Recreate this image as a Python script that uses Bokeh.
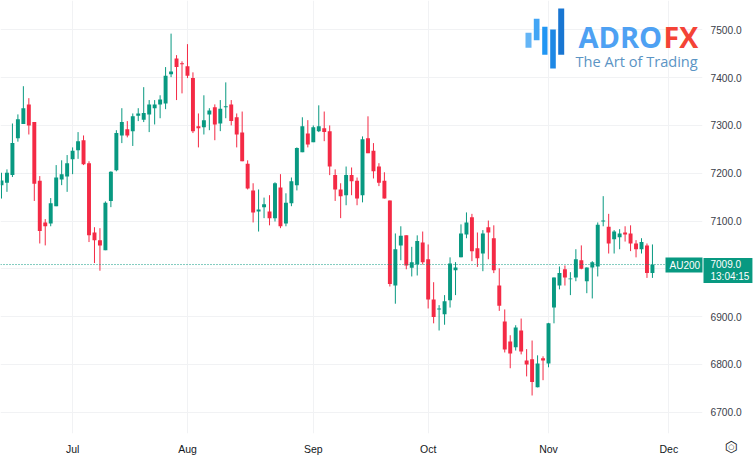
from bokeh.embed import file_html
from bokeh.resources import INLINE
from bokeh.plotting import figure
from bokeh.models import (Range1d, FixedTicker, Span, Label, BoxAnnotation,
                          ColumnDataSource, NumeralTickFormatter)

open_ = [7175,7180,7196,7273,7303,7344,7307,7184,7097,7095,7131,7187,7193,7229,7248,7269,7221,7076,7060,7039,
         7142,7206,7279,7292,7288,7320,7312,7323,7336,7344,7346,7407,7440,7430,7424,7399,7298,7296,7323,7338,
         7304,7338,7344,7317,7285,7220,7164,7120,7129,7120,7106,7170,7095,7137,7175,7244,7283,7265,7288,7294,
         7288,7196,7166,7154,7196,7184,7154,7273,7247,7214,7184,7143,6965,7049,7070,7002,7009,7055,7020,6936,
         6915,6905,6934,6997,7024,7072,7108,7043,7032,7087,7064,6965,6890,6848,6836,6871,6808,6811,6752,6813,
         6802,6919,6965,6999,6978,6982,7018,6974,7003,7005,7099,7088,7062,7066,7076,7074,7053,7041,7049,6991]
high = [7201,7208,7304,7323,7382,7357,7307,7194,7104,7148,7217,7227,7238,7254,7286,7279,7225,7087,7085,7141,
        7204,7290,7336,7309,7325,7336,7380,7353,7353,7363,7422,7492,7447,7434,7470,7411,7325,7363,7336,7344,
        7353,7390,7353,7325,7329,7227,7179,7166,7149,7154,7181,7198,7158,7191,7254,7317,7311,7300,7342,7329,
        7300,7208,7179,7214,7212,7191,7277,7319,7263,7221,7202,7143,7074,7089,7070,7046,7070,7078,7051,6972,
        6924,6945,7024,7014,7093,7118,7115,7076,7081,7101,7091,7001,6915,6861,6882,6896,6832,6850,6819,6817,
        6887,6982,7005,7007,6993,7041,7049,7003,7016,7097,7152,7115,7081,7083,7089,7091,7060,7064,7053,7051]
low = [7147,7161,7192,7266,7303,7281,7142,7053,7049,7089,7131,7175,7161,7198,7230,7217,7056,7012,6996,7039,
       7129,7204,7263,7275,7257,7309,7307,7286,7302,7315,7334,7401,7353,7367,7399,7284,7254,7281,7290,7269,
       7288,7315,7300,7254,7225,7166,7097,7078,7106,7091,7099,7085,7089,7131,7164,7244,7254,7265,7286,7267,
       7196,7142,7106,7133,7154,7133,7139,7242,7189,7173,7147,6963,6927,7018,6999,6984,6986,7009,6917,6886,
       6871,6883,6919,6945,7024,7064,7016,7004,6995,7020,6991,6912,6825,6792,6829,6821,6775,6735,6752,6767,
       6794,6886,6957,6965,6945,6974,6999,6949,6938,6984,7089,7032,7032,7041,7057,7037,7024,7032,6981,6981]
close = [7185,7201,7263,7313,7336,7300,7178,7079,7089,7137,7191,7198,7221,7247,7267,7219,7070,7060,7049,7138,
         7203,7284,7307,7279,7319,7325,7326,7344,7344,7354,7404,7413,7422,7428,7404,7288,7294,7311,7331,7302,
         7335,7340,7309,7281,7225,7168,7118,7124,7135,7106,7179,7089,7138,7183,7253,7298,7260,7296,7298,7286,
         7214,7166,7152,7196,7183,7147,7271,7242,7204,7180,7147,6968,7041,7069,7007,7014,7058,7014,6936,6899,
         6917,6932,7011,7003,7074,7097,7037,7022,7074,7076,6997,6923,6831,6823,6877,6827,6800,6763,6802,6808,
         6886,6982,6991,6982,6980,7020,7000,7003,7014,7092,7101,7053,7078,7074,7072,7053,7041,7056,6991,7009]

price_ticks = [6700, 6800, 6900, 7000, 7100, 7200, 7300, 7400, 7500]
month_ticks = [13, 34, 57, 78, 100, 122]
month_labels = ["Jul", "Aug", "Sep", "Oct", "Nov", "Dec"]
last_price = 7009.0
countdown = "13:04:15"
symbol = "AU200"

GREEN = "#089981"
RED = "#f42a45"
GRID = "#f1f2f4"

p = figure(width=755, height=460, frame_width=702, frame_height=433,
           output_backend="svg", toolbar_location=None,
           x_range=Range1d(-0.18, 128.15), y_range=Range1d(6655.5, 7561.3),
           min_border_left=0, min_border_top=0, min_border_right=0, min_border_bottom=27,
           y_axis_location="right", outline_line_color=None, background_fill_color="white")
p.margin = 0

idx = list(range(len(close)))
src = ColumnDataSource(dict(
    x=idx, high=high, low=low,
    top=[max(o, c) for o, c in zip(open_, close)],
    bottom=[min(o, c) for o, c in zip(open_, close)],
    color=[GREEN if c >= o else RED for o, c in zip(open_, close)]))
p.segment("x", "high", "x", "low", color="color", line_width=1, source=src)
p.vbar("x", 0.72, "bottom", "top", fill_color="color", line_color=None, source=src)

p.xaxis.ticker = FixedTicker(ticks=month_ticks)
p.xaxis.major_label_overrides = dict(zip(month_ticks, month_labels))
p.xaxis.axis_line_color = None
p.xaxis.major_tick_line_color = None
p.xaxis.minor_tick_line_color = None
p.xaxis.major_tick_out = 0
p.xaxis.major_tick_in = 0
p.xaxis.major_label_text_font = "Liberation Sans"
p.xaxis.major_label_text_font_size = "10.5px"
p.xaxis.major_label_text_color = "#131722"
p.xaxis.major_label_standoff = 9

ax = p.yaxis[0]
ax.ticker = FixedTicker(ticks=price_ticks)
ax.formatter = NumeralTickFormatter(format="0.0")
ax.axis_line_color = None
ax.major_tick_line_color = None
ax.minor_tick_line_color = None
ax.major_tick_out = 0
ax.major_tick_in = 0
ax.major_label_text_font = "Liberation Sans"
ax.major_label_text_font_size = "10.2px"
ax.major_label_text_color = "#3a3e4a"
ax.major_label_standoff = 8

p.xgrid.ticker = FixedTicker(ticks=month_ticks)
p.ygrid.ticker = FixedTicker(ticks=price_ticks)
p.xgrid.grid_line_color = GRID
p.ygrid.grid_line_color = GRID

p.add_layout(Span(location=last_price, dimension="width", line_color=GREEN, line_width=1, line_dash="1 2"))


def box(l, r, t, b, color):
    p.add_layout(BoxAnnotation(left=l, right=r, top=t, bottom=b, left_units="canvas", right_units="canvas",
                               top_units="canvas", bottom_units="canvas", fill_color=color, fill_alpha=1,
                               line_color=None, level="overlay", editable=False))


def text(x, y, s, size, color, font="Liberation Sans", style="normal", align="left", bg=None, padding=0, place="center", lh=1.2):
    p.add_layout(Label(x=x, y=y, x_units="canvas", y_units="canvas", text=s, text_font=font,
                       text_font_size=size, text_color=color, text_font_style=style,
                       text_align=align, text_baseline="middle", level="overlay", text_line_height=lh,
                       background_fill_color=bg, padding=padding), place)


# padding order here: left, right, top, bottom
text(665, 264.5, symbol, "10px", "white", bg=GREEN, padding=(4, 3, 2, 2))
text(703, 270, f"{last_price:.1f}\n{countdown}", "10px", "white", bg=GREEN, padding=(7, 3, 1, 1), place="right", lh=1.1)

for l, r, t, b, c in [(525, 531, 47.3, 32.3, "#64b5f6"), (533.3, 539, 39.7, 18.3, "#42a5f5"),
                      (541.7, 547, 54.3, 26.3, "#2196f3"), (549.7, 555.3, 68, 29, "#1e88e5"),
                      (557.7, 563.7, 54.3, 8, "#1976d2")]:
    box(l, r, t, b, c)
text(578, 36, "ADRO", "29px", "#4ea1f3", font="Open Sans", style="bold")
text(663, 36, "FX", "28.5px", "#f44336", font="Open Sans", style="bold")
text(575, 60, "The Art of Trading", "14.6px", "#5b94c4", font="Open Sans")

text(730.8, 446.7, "\u2b21", "15px", "#131722", font="DejaVu Sans", align="center", place="right")
text(730.8, 446.7, "\u25cb", "7px", "#131722", font="DejaVu Sans", align="center", place="right")

open("out.html", "w").write(file_html(p, INLINE))
